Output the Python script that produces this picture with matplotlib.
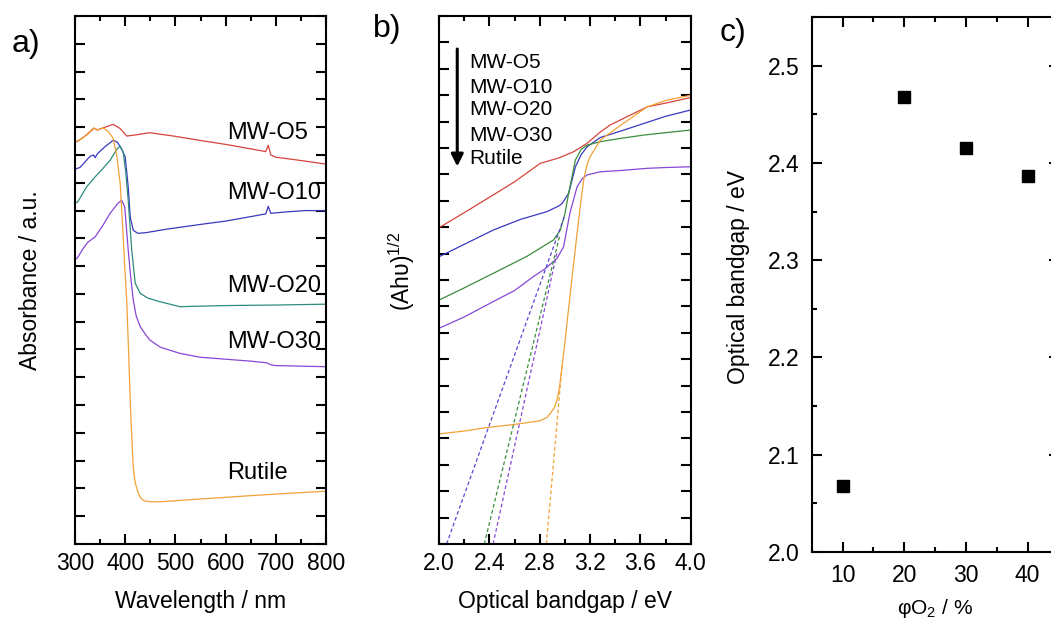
import numpy as np
import matplotlib
matplotlib.use("Agg")
import matplotlib.pyplot as plt
from matplotlib.ticker import MultipleLocator, NullFormatter

plt.rcParams['font.family'] = ['Liberation Sans', 'DejaVu Sans']
plt.rcParams['mathtext.default'] = 'regular'
plt.rcParams['font.size'] = 16.5

# ---- a) absorbance spectra (tick units, offset) ----
wl_o5 = [300, 310, 325, 338, 345, 360, 376, 390, 403, 420, 449, 500, 550, 600, 650, 680, 685, 690, 700, 750, 800]
ab_o5 = [14.44, 14.55, 14.75, 14.96, 14.9, 15.0, 15.1, 14.95, 14.68, 14.72, 14.8, 14.67, 14.52, 14.38, 14.22, 14.12, 14.35, 14.0, 13.92, 13.8, 13.67]

wl_o10 = [300, 310, 320, 330, 337, 340, 345, 360, 376, 385, 393, 400, 406, 410, 416, 425, 440, 483, 550, 600, 650, 680, 685, 690, 720, 760, 800]
ab_o10 = [13.49, 13.55, 13.75, 13.95, 14.0, 13.9, 14.05, 14.3, 14.53, 14.45, 14.2, 13.93, 12.85, 11.77, 11.29, 11.18, 11.2, 11.33, 11.5, 11.62, 11.78, 11.88, 12.15, 11.9, 11.95, 12.0, 11.99]

wl_o20 = [300, 305, 315, 323, 340, 355, 370, 383, 390, 396, 401, 406, 413, 420, 430, 445, 469, 509, 600, 700, 800]
ab_o20 = [12.29, 12.3, 12.6, 12.85, 13.21, 13.5, 13.81, 14.2, 14.32, 14.1, 13.4, 12.37, 10.58, 9.38, 9.02, 8.85, 8.72, 8.54, 8.58, 8.6, 8.63]

wl_o30 = [300, 305, 315, 325, 340, 355, 370, 385, 393, 399, 406, 411, 416, 422, 430, 440, 449, 470, 509, 549, 600, 650, 682, 690, 700, 750, 800]
ab_o30 = [10.24, 10.3, 10.6, 10.85, 11.05, 11.45, 11.9, 12.25, 12.37, 12.13, 10.58, 9.6, 8.78, 8.2, 7.82, 7.55, 7.34, 7.08, 6.86, 6.72, 6.65, 6.58, 6.52, 6.45, 6.42, 6.4, 6.38]

wl_rut = [300, 315, 330, 337, 345, 356, 366, 376, 383, 390, 395, 399, 403, 407, 410, 413, 416, 420, 426, 432, 439, 450, 470, 550, 650, 750, 800]
ab_rut = [14.47, 14.6, 14.85, 14.97, 14.9, 14.97, 14.85, 14.6, 14.0, 12.98, 11.4, 9.98, 8.78, 6.8, 5.18, 3.9, 2.78, 2.2, 1.83, 1.62, 1.55, 1.52, 1.52, 1.62, 1.74, 1.85, 1.9]

# ---- b) Tauc plot ----
e_o5 = [2.0, 2.2, 2.43, 2.6, 2.805, 2.95, 3.07, 3.177, 3.28, 3.36, 3.5, 3.655, 3.8, 4.0]
t_o5 = [11.98, 12.55, 13.22, 13.72, 14.42, 14.62, 14.86, 15.18, 15.6, 15.87, 16.2, 16.56, 16.7, 16.91]

e_o10 = [2.0, 2.2, 2.43, 2.65, 2.858, 2.95, 2.978, 3.03, 3.084, 3.13, 3.177, 3.283, 3.45, 3.628, 3.8, 4.0]
t_o10 = [10.88, 11.35, 11.89, 12.3, 12.59, 12.8, 12.9, 13.28, 14.29, 14.75, 15.05, 15.4, 15.65, 15.93, 16.2, 16.44]

e_o20 = [2.0, 2.2, 2.43, 2.7, 2.911, 2.964, 3.0, 3.03, 3.084, 3.13, 3.177, 3.283, 3.45, 3.628, 3.8, 4.0]
t_o20 = [9.24, 9.7, 10.25, 10.9, 11.52, 11.89, 12.5, 13.28, 14.55, 14.95, 15.11, 15.24, 15.37, 15.49, 15.58, 15.68]

e_o30 = [2.0, 2.2, 2.43, 2.6, 2.751, 2.85, 2.938, 2.99, 3.04, 3.097, 3.14, 3.177, 3.283, 3.45, 3.655, 3.8, 4.0]
t_o30 = [8.17, 8.6, 9.18, 9.6, 10.13, 10.45, 10.82, 11.26, 12.53, 13.53, 13.85, 13.98, 14.1, 14.15, 14.23, 14.26, 14.29]

e_rut = [2.0, 2.2, 2.38, 2.6, 2.805, 2.86, 2.885, 2.915, 2.938, 2.958, 2.978, 3.0, 3.018, 3.03, 3.06, 3.097, 3.125, 3.15, 3.175, 3.2, 3.283, 3.39, 3.5, 3.655, 3.8, 4.0]
t_rut = [4.17, 4.28, 4.41, 4.53, 4.67, 4.8, 4.95, 5.15, 5.45, 5.95, 6.72, 7.6, 8.42, 8.93, 10.2, 11.77, 12.9, 13.79, 14.35, 14.67, 15.3, 15.68, 16.05, 16.56, 16.8, 17.0]

# linear fits: x-intercept and upper end of each fit line
fit_x0 = [2.06, 2.36, 2.43, 2.853]
fit_x1 = [3.0, 2.96, 2.94, 2.978]
fit_y1 = [12.45, 11.7, 11.1, 6.78]

# ---- c) bandgap vs oxygen fraction ----
phi_o2 = [10, 20, 30, 40]
bandgap = [2.068, 2.468, 2.415, 2.387]

RED = '#d5443c'
BLUE = '#3a38c0'
TEAL = '#2f8b7c'
GREEN = '#3b8e3b'
PURPLE = '#8748d8'
ORANGE = '#f0a236'
FIT_BLUE = '#5a48d4'

W, H = 1051, 621
fig = plt.figure(figsize=(W / 100, H / 100), dpi=100)


def box(left, top, right, bottom):
    return [left / W, 1 - bottom / H, (right - left) / W, (bottom - top) / H]


def style(ax, pad=6):
    for s in ax.spines.values():
        s.set_linewidth(1.5)
    ax.tick_params(which='both', direction='in', top=True, right=True, width=1.5, pad=pad)
    ax.tick_params(which='major', length=7)
    ax.tick_params(which='minor', length=3.5)


# a)
ax1 = fig.add_axes(box(75, 16, 326, 544))
lw = 0.9
ax1.plot(wl_o5, ab_o5, color=RED, lw=lw)
ax1.plot(wl_o10, ab_o10, color=BLUE, lw=lw)
ax1.plot(wl_o20, ab_o20, color=TEAL, lw=lw)
ax1.plot(wl_o30, ab_o30, color=PURPLE, lw=lw)
ax1.plot(wl_rut, ab_rut, color=ORANGE, lw=lw)
ax1.set_xlim(300, 800)
ax1.set_ylim(0, 19)
ax1.xaxis.set_major_locator(MultipleLocator(100))
ax1.xaxis.set_minor_locator(MultipleLocator(50))
ax1.yaxis.set_major_locator(MultipleLocator(1))
ax1.yaxis.set_major_formatter(NullFormatter())
style(ax1)
ax1.set_xlabel('Wavelength / nm')
ax1.xaxis.set_label_coords(0.5, -0.088)
ax1.set_ylabel('Absorbance / a.u.')
ax1.yaxis.set_label_coords(-0.131, 0.5)
for txt, y in [('MW-O5', 14.78), ('MW-O10', 12.63), ('MW-O20', 9.28), ('MW-O30', 7.27), ('Rutile', 2.55)]:
    ax1.text(603, y, txt, fontsize=17, va='center', ha='left')

# b)
ax2 = fig.add_axes(box(439, 16, 690.7, 544))
ax2.plot(e_o5, t_o5, color=RED, lw=lw)
ax2.plot(e_o10, t_o10, color=BLUE, lw=lw)
ax2.plot(e_o20, t_o20, color=GREEN, lw=lw)
ax2.plot(e_o30, t_o30, color=PURPLE, lw=lw)
ax2.plot(e_rut, t_rut, color=ORANGE, lw=lw)
for x0, x1, y1, c in zip(fit_x0, fit_x1, fit_y1, [FIT_BLUE, GREEN, PURPLE, ORANGE]):
    ax2.plot([x0, x1], [0, y1], color=c, lw=lw, ls=(0, (3, 2)))
ax2.set_xlim(2.0, 4.0)
ax2.set_ylim(0, 20)
ax2.xaxis.set_major_locator(MultipleLocator(0.4))
ax2.xaxis.set_minor_locator(MultipleLocator(0.2))
ax2.xaxis.set_major_formatter(matplotlib.ticker.FormatStrFormatter('%.1f'))
ax2.yaxis.set_major_locator(MultipleLocator(1))
ax2.yaxis.set_major_formatter(NullFormatter())
style(ax2)
ax2.set_xlabel('Optical bandgap / eV')
ax2.xaxis.set_label_coords(0.5, -0.088)
ax2.set_ylabel('(Ahυ)$^{1/2}$')
ax2.yaxis.set_label_coords(-0.087, 0.517)
for txt, y in zip(['MW-O5', 'MW-O10', 'MW-O20', 'MW-O30', 'Rutile'], [18.22, 17.31, 16.44, 15.49, 14.62]):
    ax2.text(2.241, y, txt, fontsize=15, va='center', ha='left')
ax2.annotate('', xy=(2.145, 14.3), xytext=(2.145, 18.75),
             arrowprops=dict(arrowstyle='-|>', color='black', lw=2.2, mutation_scale=18, shrinkA=0, shrinkB=0))

# c)
ax3 = fig.add_axes(box(811.7, 17.3, 1058.5, 551.7))
ax3.plot(phi_o2, bandgap, 's', color='black', markersize=8)
ax3.set_xlim(5, 45)
ax3.set_ylim(2.0, 2.55)
ax3.xaxis.set_major_locator(MultipleLocator(10))
ax3.xaxis.set_minor_locator(MultipleLocator(5))
ax3.yaxis.set_major_locator(MultipleLocator(0.1))
ax3.yaxis.set_minor_locator(MultipleLocator(0.05))
ax3.yaxis.set_major_formatter(matplotlib.ticker.FormatStrFormatter('%.1f'))
style(ax3, pad=8.5)
ax3.set_xlabel('φO$_2$ / %', fontsize=15)
ax3.xaxis.set_label_coords(0.5, -0.085)
ax3.set_ylabel('Optical bandgap / eV')
ax3.yaxis.set_label_coords(-0.25, 0.514)

fig.text(12 / W, 1 - 44 / H, 'a)', fontsize=23, ha='left', va='center')
fig.text(373 / W, 1 - 29 / H, 'b)', fontsize=23, ha='left', va='center')
fig.text(720 / W, 1 - 33 / H, 'c)', fontsize=23, ha='left', va='center')

fig.savefig('out.png', dpi=100)
